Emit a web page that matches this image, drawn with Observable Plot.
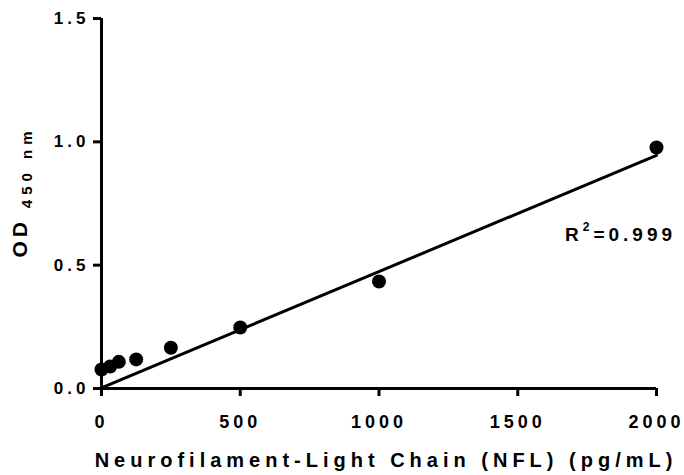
<!DOCTYPE html>
<html>
<head>
<meta charset="utf-8">
<script src="https://cdn.jsdelivr.net/npm/d3@7"></script>
<script src="https://cdn.jsdelivr.net/npm/@observablehq/plot@0.6"></script>
<style>
  body { margin: 0; background: #fff; }
  svg text { font-family: "Liberation Sans", Arial, sans-serif; font-weight: bold; }
  .tick-lbl text { letter-spacing: 4px; }
</style>
</head>
<body>
<div id="chart"></div>
<script>
const concentration = [0, 31.25, 62.5, 125, 250, 500, 1000, 2000];
const od450 = [0.077, 0.089, 0.108, 0.118, 0.165, 0.247, 0.434, 0.977];
const fitX = [0, 2000];
const fitY = [0.003, 0.945];
const xTicks = [0, 500, 1000, 1500, 2000];
const yTicks = [0, 0.5, 1.0, 1.5];
const xTitle = "Neurofilament-Light Chain (NFL) (pg/mL)";
const r2Label = "0.999";

const points = concentration.map((c, i) => ({c, od: od450[i]}));
const fit = fitX.map((x, i) => ({x, y: fitY[i]}));

const W = 684, H = 475;
const plot = Plot.plot({
  width: W, height: H,
  marginLeft: 101, marginRight: 28, marginTop: 18, marginBottom: 87,
  style: {background: "#fff", color: "#000", fontSize: "18px"},
  x: {domain: [0, 2000]},
  y: {domain: [0, 1.5]},
  marks: [
    Plot.axisX({ticks: xTicks, tickSize: 8, tickPadding: 19, strokeWidth: 3, label: null,
      tickFormat: d => String(d), fontSize: 18, className: "tick-lbl"}),
    Plot.axisY({ticks: yTicks, tickSize: 8, tickPadding: 4, strokeWidth: 3, label: null,
      tickFormat: d => d.toFixed(1), fontSize: 17, className: "tick-lbl"}),
    Plot.ruleX([0], {stroke: "#000", strokeWidth: 3}),
    Plot.ruleY([0], {stroke: "#000", strokeWidth: 3}),
    Plot.line(fit, {x: "x", y: "y", stroke: "#000", strokeWidth: 3}),
    Plot.dot(points, {x: "c", y: "od", r: 7, fill: "#000", stroke: "none"})
  ]
});
document.getElementById("chart").appendChild(plot);

const svg = d3.select(plot);
// x axis title
svg.append("text")
  .attr("x", 386).attr("y", 467)
  .attr("text-anchor", "middle")
  .style("font-size", "20px").style("letter-spacing", "5px")
  .text(xTitle);
// y axis title
const yt = svg.append("text")
  .attr("transform", "translate(27,192) rotate(-90)")
  .attr("text-anchor", "middle")
  .style("font-size", "21px").style("letter-spacing", "4px");
yt.append("tspan").text("OD ");
yt.append("tspan").attr("dy", "5").style("font-size", "15px").style("letter-spacing", "5px").text("450 nm");
// R^2 label
const r = svg.append("text").attr("x", 565).attr("y", 241)
  .attr("text-anchor", "start")
  .style("font-size", "19px").style("letter-spacing", "4px");
r.append("tspan").text("R");
r.append("tspan").attr("dy", "-10").style("font-size", "12px").text("2");
r.append("tspan").attr("dy", "10").text("=" + r2Label);
</script>
</body>
</html>
